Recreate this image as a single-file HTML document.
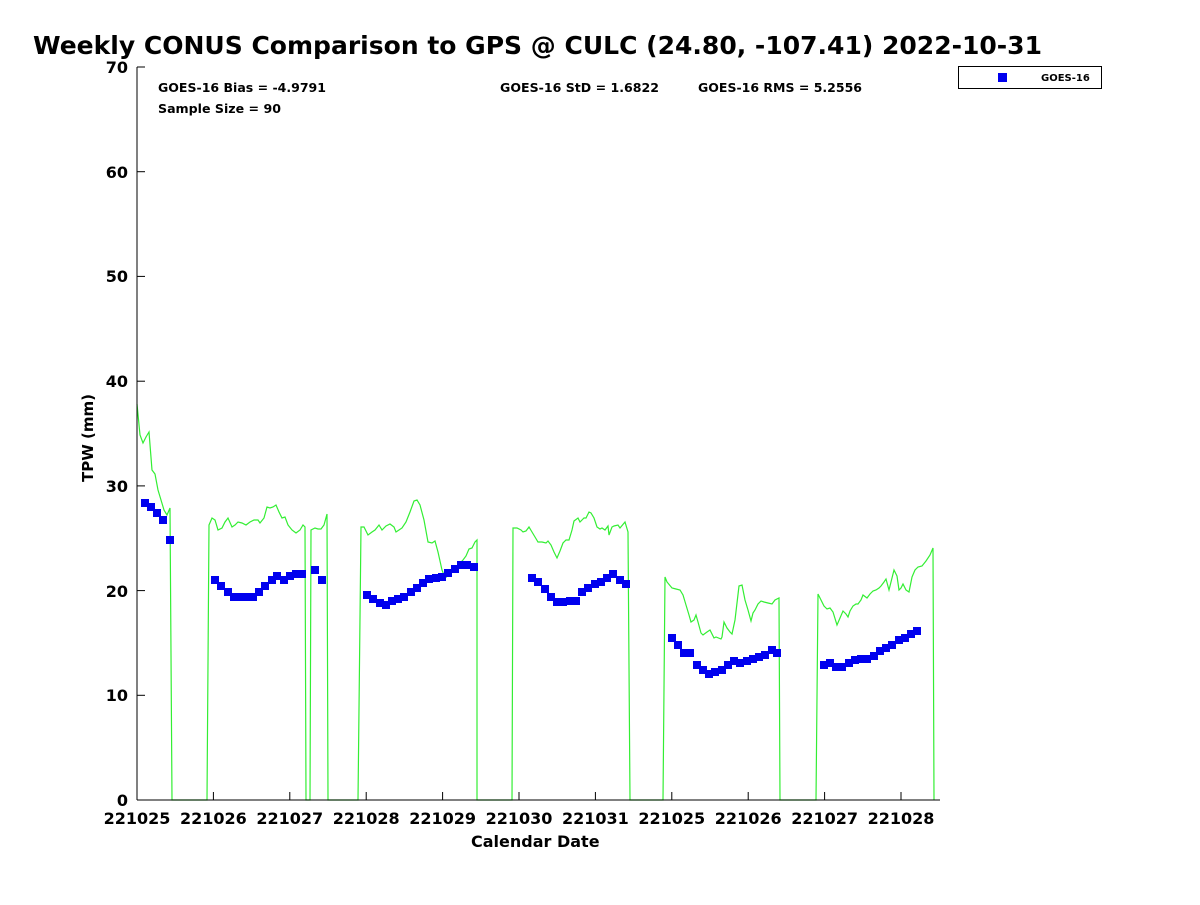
<!DOCTYPE html>
<html><head><meta charset="utf-8"><style>
html,body{margin:0;padding:0;background:#fff;}
svg text{font-family:"DejaVu Sans","Liberation Sans",sans-serif;font-weight:bold;fill:#000;}
</style></head><body>
<svg width="1200" height="900" viewBox="0 0 1200 900" xmlns="http://www.w3.org/2000/svg">
<rect width="1200" height="900" fill="#fff"/>
<text x="33" y="54" font-size="25" textLength="1009" lengthAdjust="spacingAndGlyphs">Weekly CONUS Comparison to GPS @ CULC (24.80, -107.41) 2022-10-31</text>
<text x="158" y="92" font-size="12" textLength="168" lengthAdjust="spacingAndGlyphs">GOES-16 Bias = -4.9791</text>
<text x="158" y="113" font-size="12" textLength="123" lengthAdjust="spacingAndGlyphs">Sample Size = 90</text>
<text x="500" y="92" font-size="12" textLength="159" lengthAdjust="spacingAndGlyphs">GOES-16 StD = 1.6822</text>
<text x="698" y="92" font-size="12" textLength="164" lengthAdjust="spacingAndGlyphs">GOES-16 RMS = 5.2556</text>
<rect x="958.5" y="66.5" width="143" height="22" fill="#fff" stroke="#000" stroke-width="1"/>
<rect x="998" y="73" width="9" height="9" fill="#0000ee"/>
<text x="1041" y="81" font-size="10">GOES-16</text>
<g fill="none" stroke="#33ee33" stroke-width="1.2">
<polyline points="137,404 140,435 143,443 146,437 149,432 152,470 155,474 158,490 161,500 164,510 167,515 170,508 172,800 207,800 209,525 212,518 215,520 218,530 222,528 225,522 228,518 232,527 235,525 238,522 242,523 246,525 250,522 254,520 258,520 260,523 264,518 267,507 270,508 273,507 276,505 279,512 282,518 285,517 288,525 292,530 296,533 300,530 303,525 305,527 306,800 310,800 311,530 315,528 318,529 321,529 324,525 327,514 328,800 358,800 361,527 364,527 368,535 372,532 375,530 379,525 382,530 386,526 390,524 394,527 396,532 399,530 402,528 406,522 410,512 414,501 417,500 420,505 424,520 428,542 432,543 435,541 438,552 442,570 445,578 449,575 453,569 457,566 460,563 463,560 466,556 469,549 472,548 475,542 477,540 477,800 512,800 513,528 517,528 521,530 523,532 526,531 529,527 532,532 535,537 538,542 542,542 546,543 548,541 551,545 554,552 557,558 560,551 563,543 566,540 569,540 572,530 574,521 578,518 580,522 584,518 586,518 589,512 591,513 594,518 597,527 600,529 602,528 605,530 608,526 609,535 612,527 614,526 618,525 620,528 625,522 628,532 630,800 663,800 665,577 667,582 672,588 676,589 680,590 683,595 686,605 689,615 691,622 694,620 696,615 698,622 701,633 703,635 707,632 710,630 714,638 716,637 721,639 722,637 724,622 727,628 730,632 732,634 735,620 739,586 742,585 745,600 748,610 751,621 753,613 755,610 758,604 761,601 764,602 768,603 772,604 775,600 779,598 780,800 816,800 818,594 821,600 824,606 827,609 830,608 833,612 837,625 840,618 843,611 846,614 848,617 850,611 853,606 856,604 858,604 861,600 863,595 867,598 870,594 873,591 876,590 879,588 881,586 884,582 886,579 889,590 891,582 894,570 897,576 899,590 901,588 903,584 906,590 909,592 912,577 915,570 918,567 922,566 926,561 930,555 933,548 934,800"/>
</g>
<g fill="#0000ee">
<rect x="141" y="499" width="8" height="8"/><rect x="147" y="503" width="8" height="8"/><rect x="153" y="509" width="8" height="8"/><rect x="159" y="516" width="8" height="8"/><rect x="166" y="536" width="8" height="8"/>
<rect x="211" y="576" width="8" height="8"/><rect x="217" y="582" width="8" height="8"/><rect x="224" y="588" width="8" height="8"/><rect x="230" y="593" width="8" height="8"/><rect x="236" y="593" width="8" height="8"/><rect x="242" y="593" width="8" height="8"/><rect x="249" y="593" width="8" height="8"/><rect x="255" y="588" width="8" height="8"/><rect x="261" y="582" width="8" height="8"/><rect x="268" y="576" width="8" height="8"/><rect x="273" y="572" width="8" height="8"/><rect x="280" y="576" width="8" height="8"/><rect x="286" y="572" width="8" height="8"/><rect x="292" y="570" width="8" height="8"/><rect x="298" y="570" width="8" height="8"/><rect x="311" y="566" width="8" height="8"/><rect x="318" y="576" width="8" height="8"/>
<rect x="363" y="591" width="8" height="8"/><rect x="369" y="595" width="8" height="8"/><rect x="376" y="599" width="8" height="8"/><rect x="382" y="601" width="8" height="8"/><rect x="388" y="597" width="8" height="8"/><rect x="394" y="595" width="8" height="8"/><rect x="400" y="593" width="8" height="8"/><rect x="407" y="588" width="8" height="8"/><rect x="413" y="584" width="8" height="8"/><rect x="419" y="579" width="8" height="8"/><rect x="425" y="575" width="8" height="8"/><rect x="432" y="574" width="8" height="8"/><rect x="438" y="573" width="8" height="8"/><rect x="444" y="569" width="8" height="8"/><rect x="451" y="565" width="8" height="8"/><rect x="457" y="561" width="8" height="8"/><rect x="463" y="561" width="8" height="8"/><rect x="470" y="563" width="8" height="8"/>
<rect x="528" y="574" width="8" height="8"/><rect x="534" y="578" width="8" height="8"/><rect x="541" y="585" width="8" height="8"/><rect x="547" y="593" width="8" height="8"/><rect x="553" y="598" width="8" height="8"/><rect x="559" y="598" width="8" height="8"/><rect x="566" y="597" width="8" height="8"/><rect x="572" y="597" width="8" height="8"/><rect x="578" y="588" width="8" height="8"/><rect x="584" y="584" width="8" height="8"/><rect x="591" y="580" width="8" height="8"/><rect x="597" y="578" width="8" height="8"/><rect x="603" y="574" width="8" height="8"/><rect x="609" y="570" width="8" height="8"/><rect x="616" y="576" width="8" height="8"/><rect x="622" y="580" width="8" height="8"/>
<rect x="668" y="634" width="8" height="8"/><rect x="674" y="641" width="8" height="8"/><rect x="680" y="649" width="8" height="8"/><rect x="686" y="649" width="8" height="8"/><rect x="693" y="661" width="8" height="8"/><rect x="699" y="666" width="8" height="8"/><rect x="705" y="670" width="8" height="8"/><rect x="711" y="668" width="8" height="8"/><rect x="718" y="666" width="8" height="8"/><rect x="724" y="661" width="8" height="8"/><rect x="730" y="657" width="8" height="8"/><rect x="736" y="659" width="8" height="8"/><rect x="743" y="657" width="8" height="8"/><rect x="749" y="655" width="8" height="8"/><rect x="755" y="653" width="8" height="8"/><rect x="761" y="651" width="8" height="8"/><rect x="768" y="646" width="8" height="8"/><rect x="773" y="649" width="8" height="8"/>
<rect x="820" y="661" width="8" height="8"/><rect x="826" y="659" width="8" height="8"/><rect x="832" y="663" width="8" height="8"/><rect x="838" y="663" width="8" height="8"/><rect x="845" y="659" width="8" height="8"/><rect x="851" y="656" width="8" height="8"/><rect x="857" y="655" width="8" height="8"/><rect x="863" y="655" width="8" height="8"/><rect x="870" y="652" width="8" height="8"/><rect x="876" y="647" width="8" height="8"/><rect x="882" y="644" width="8" height="8"/><rect x="888" y="641" width="8" height="8"/><rect x="895" y="636" width="8" height="8"/><rect x="901" y="634" width="8" height="8"/><rect x="907" y="630" width="8" height="8"/><rect x="913" y="627" width="8" height="8"/>
</g>
<g stroke="#000" stroke-width="1" fill="none">
<line x1="137" y1="67" x2="137" y2="800"/>
<line x1="137" y1="800" x2="940" y2="800"/>
<line x1="137" y1="800" x2="145" y2="800"/><line x1="137" y1="695.3" x2="145" y2="695.3"/><line x1="137" y1="590.6" x2="145" y2="590.6"/><line x1="137" y1="485.9" x2="145" y2="485.9"/><line x1="137" y1="381.2" x2="145" y2="381.2"/><line x1="137" y1="276.4" x2="145" y2="276.4"/><line x1="137" y1="171.7" x2="145" y2="171.7"/><line x1="137" y1="67" x2="145" y2="67"/>
<line x1="213.4" y1="800" x2="213.4" y2="792"/><line x1="289.8" y1="800" x2="289.8" y2="792"/><line x1="366.2" y1="800" x2="366.2" y2="792"/><line x1="442.6" y1="800" x2="442.6" y2="792"/><line x1="519" y1="800" x2="519" y2="792"/><line x1="595.4" y1="800" x2="595.4" y2="792"/><line x1="671.8" y1="800" x2="671.8" y2="792"/><line x1="748.2" y1="800" x2="748.2" y2="792"/><line x1="824.6" y1="800" x2="824.6" y2="792"/><line x1="901" y1="800" x2="901" y2="792"/>
</g>
<g font-size="16" text-anchor="end">
<text x="128" y="806">0</text><text x="128" y="701">10</text><text x="128" y="597">20</text><text x="128" y="492">30</text><text x="128" y="387">40</text><text x="128" y="282">50</text><text x="128" y="178">60</text><text x="128" y="73">70</text>
</g>
<g font-size="16" text-anchor="middle">
<text x="137" y="824">221025</text><text x="213.4" y="824">221026</text><text x="289.8" y="824">221027</text><text x="366.2" y="824">221028</text><text x="442.6" y="824">221029</text><text x="519" y="824">221030</text><text x="595.4" y="824">221031</text><text x="671.8" y="824">221025</text><text x="748.2" y="824">221026</text><text x="824.6" y="824">221027</text><text x="901" y="824">221028</text>
</g>
<text x="471" y="847" font-size="16">Calendar Date</text>
<text transform="translate(93,482) rotate(-90)" font-size="15">TPW (mm)</text>
</svg>
</body></html>
